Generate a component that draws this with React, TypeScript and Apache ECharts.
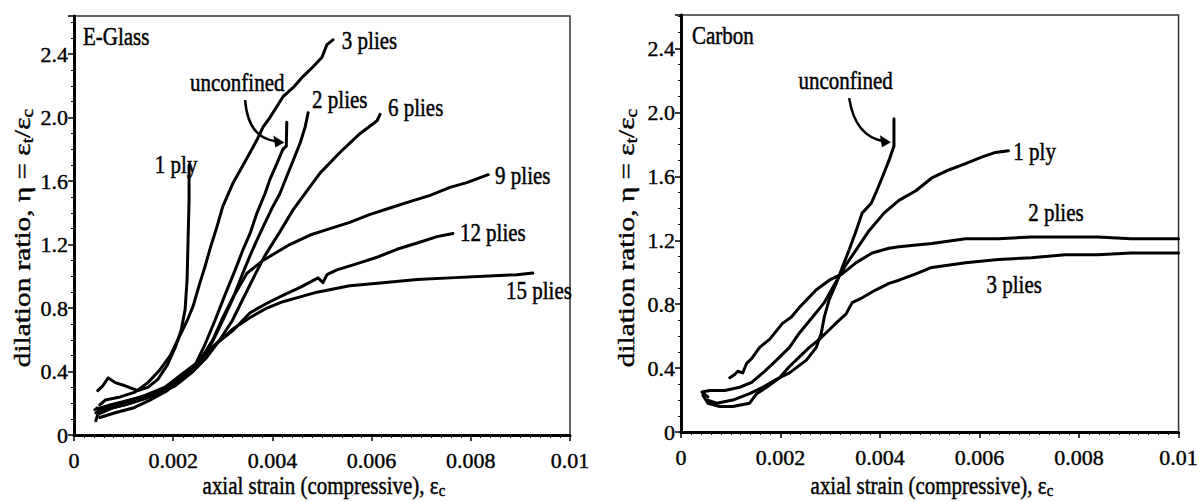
import React, { useEffect, useRef } from 'react';
import * as echarts from 'echarts';

const FAMILY = "'Liberation Serif', serif";
const FONT_SHORT = "'Liberation Serif', serif";

const xTickStep = 0.002;
const yTickStep = 0.4;
const xMax = 0.01;
const yMaxGlass = 2.64;
const yMaxCarbon = 2.61;

// ---------- E-Glass panel ----------
const glass1Ply = [[0.00048,0.28],[0.00058,0.31],[0.00069,0.36],[0.00083,0.33],[0.00103,0.31],[0.00129,0.28],[0.00149,0.30],[0.00169,0.35],[0.00188,0.44],[0.00204,0.55],[0.00216,0.66],[0.00224,0.79],[0.00228,0.98],[0.0023,1.23],[0.00232,1.48],[0.00232,1.70]];
const glass3Plies = [[0.00052,0.19],[0.00063,0.22],[0.00093,0.24],[0.00123,0.27],[0.00149,0.33],[0.00173,0.41],[0.00194,0.50],[0.00214,0.63],[0.00228,0.72],[0.0024,0.81],[0.00254,0.96],[0.00264,1.06],[0.00274,1.17],[0.0028,1.23],[0.00288,1.31],[0.003,1.44],[0.00321,1.59],[0.00339,1.69],[0.00355,1.78],[0.00369,1.86],[0.00381,1.94],[0.00395,2.0],[0.00409,2.07],[0.00421,2.13],[0.00442,2.19],[0.00462,2.26],[0.00482,2.32],[0.005,2.38],[0.0051,2.46],[0.00522,2.49]];
const glassUnconfined = [[0.00046,0.17],[0.00063,0.16],[0.00103,0.19],[0.00143,0.23],[0.00183,0.28],[0.00214,0.35],[0.00244,0.44],[0.00264,0.57],[0.00284,0.72],[0.00304,0.88],[0.00325,1.04],[0.00341,1.17],[0.00355,1.27],[0.00369,1.40],[0.00385,1.52],[0.00395,1.61],[0.00409,1.71],[0.00421,1.80],[0.00428,1.82],[0.00429,1.97]];
const glass2Plies = [[0.00044,0.14],[0.00073,0.19],[0.00113,0.22],[0.00153,0.25],[0.0019,0.30],[0.00224,0.38],[0.00254,0.47],[0.00278,0.58],[0.00298,0.71],[0.00319,0.85],[0.00339,1.01],[0.00355,1.13],[0.00369,1.23],[0.00381,1.31],[0.00401,1.44],[0.00415,1.52],[0.00429,1.63],[0.00442,1.73],[0.00456,1.84],[0.00466,1.94],[0.00472,2.03]];
const glass6Plies = [[0.00052,0.16],[0.00083,0.18],[0.00123,0.21],[0.00163,0.25],[0.00204,0.31],[0.0024,0.40],[0.00268,0.49],[0.00294,0.60],[0.00319,0.72],[0.00341,0.86],[0.00365,1.01],[0.00385,1.13],[0.00415,1.28],[0.00442,1.42],[0.0047,1.54],[0.00496,1.65],[0.00536,1.78],[0.00577,1.90],[0.00611,1.98],[0.00617,2.02]];
const glass9Plies = [[0.00042,0.16],[0.00063,0.18],[0.00103,0.21],[0.00143,0.25],[0.00183,0.30],[0.0022,0.39],[0.00254,0.47],[0.0028,0.60],[0.003,0.74],[0.00321,0.87],[0.00349,1.02],[0.00381,1.10],[0.00435,1.20],[0.00476,1.26],[0.00516,1.30],[0.00556,1.34],[0.00597,1.39],[0.00637,1.43],[0.00677,1.47],[0.00718,1.51],[0.00758,1.56],[0.00792,1.59],[0.00835,1.64]];
const glass12Plies = [[0.00052,0.11],[0.00083,0.14],[0.00119,0.17],[0.00153,0.22],[0.00188,0.28],[0.0022,0.37],[0.00254,0.47],[0.00288,0.58],[0.00321,0.66],[0.00355,0.77],[0.00389,0.83],[0.00421,0.88],[0.00456,0.93],[0.00492,0.99],[0.00502,0.96],[0.0051,1.01],[0.0053,1.04],[0.00571,1.08],[0.00611,1.12],[0.00651,1.17],[0.00692,1.21],[0.00732,1.25],[0.00764,1.27]];
const glass15Plies = [[0.00044,0.09],[0.00048,0.13],[0.00077,0.17],[0.00113,0.20],[0.00149,0.25],[0.00183,0.30],[0.00214,0.36],[0.00244,0.44],[0.00274,0.54],[0.00304,0.62],[0.00321,0.67],[0.00355,0.74],[0.00389,0.80],[0.00421,0.84],[0.00456,0.87],[0.0049,0.90],[0.00556,0.94],[0.00623,0.96],[0.00692,0.98],[0.00758,0.99],[0.00825,1.00],[0.00893,1.01],[0.00925,1.02]];

// ---------- Carbon panel ----------
const carbonUnconfined = [[0.00052,0.20],[0.00072,0.18],[0.00104,0.20],[0.00138,0.24],[0.00164,0.28],[0.00192,0.33],[0.00218,0.37],[0.00252,0.45],[0.00272,0.53],[0.00282,0.62],[0.00288,0.72],[0.00298,0.83],[0.00312,0.93],[0.00324,1.03],[0.00338,1.14],[0.00352,1.26],[0.00364,1.37],[0.00382,1.43],[0.00392,1.50],[0.00404,1.59],[0.00418,1.70],[0.00428,1.79],[0.00428,1.96]];
const carbon1Ply = [[0.00054,0.22],[0.00042,0.25],[0.00058,0.26],[0.00088,0.26],[0.00118,0.28],[0.00142,0.31],[0.00168,0.38],[0.00192,0.45],[0.00218,0.53],[0.00238,0.62],[0.00262,0.71],[0.00288,0.81],[0.00308,0.92],[0.00328,1.03],[0.00352,1.14],[0.00378,1.26],[0.00408,1.37],[0.00438,1.45],[0.00472,1.51],[0.00504,1.59],[0.00538,1.64],[0.00572,1.68],[0.00604,1.72],[0.00632,1.75],[0.00658,1.76]];
const carbon2Plies = [[0.00098,0.34],[0.00108,0.36],[0.00114,0.38],[0.00124,0.37],[0.00132,0.43],[0.00142,0.46],[0.00158,0.53],[0.00178,0.58],[0.00204,0.68],[0.00222,0.72],[0.00238,0.78],[0.00272,0.89],[0.00298,0.95],[0.00324,0.99],[0.00352,1.06],[0.00384,1.12],[0.00418,1.15],[0.00438,1.16],[0.00504,1.18],[0.00572,1.21],[0.00638,1.21],[0.00704,1.22],[0.00772,1.22],[0.00838,1.22],[0.00904,1.21],[0.01,1.21]];
const carbon3Plies = [[0.00044,0.23],[0.00054,0.18],[0.00078,0.16],[0.00104,0.16],[0.00138,0.18],[0.00152,0.24],[0.00172,0.28],[0.00198,0.34],[0.00218,0.41],[0.00238,0.47],[0.00258,0.53],[0.00278,0.58],[0.00298,0.64],[0.00318,0.70],[0.00332,0.74],[0.00344,0.81],[0.00364,0.84],[0.00392,0.89],[0.00418,0.93],[0.00438,0.95],[0.00472,0.99],[0.00504,1.03],[0.00572,1.06],[0.00638,1.08],[0.00704,1.09],[0.00772,1.11],[0.00838,1.11],[0.00904,1.12],[0.01,1.12]];

// ---------- annotations (data coordinates) ----------
const glassLabels = [
  { text: 'E-Glass', x: 0.00018, y: 2.51 },
  { text: '1 ply', x: 0.00163, y: 1.70 },
  { text: 'unconfined', x: 0.00234, y: 2.22 },
  { text: '3 plies', x: 0.0054, y: 2.48 },
  { text: '2 plies', x: 0.0048, y: 2.11 },
  { text: '6 plies', x: 0.00633, y: 2.06 },
  { text: '9 plies', x: 0.00849, y: 1.63 },
  { text: '12 plies', x: 0.00778, y: 1.27 },
  { text: '15 plies', x: 0.00871, y: 0.91 },
];
const carbonLabels = [
  { text: 'Carbon', x: 0.00022, y: 2.48 },
  { text: 'unconfined', x: 0.00236, y: 2.2 },
  { text: '1 ply', x: 0.00668, y: 1.75 },
  { text: '2 plies', x: 0.00698, y: 1.37 },
  { text: '3 plies', x: 0.00614, y: 0.92 },
];
// arrow: start, control1, control2, tip
const glassArrow = [[0.00345, 2.11], [0.00349, 1.95], [0.00371, 1.86], [0.00418, 1.85]];
const carbonArrow = [[0.00338, 2.09], [0.00346, 1.93], [0.00368, 1.84], [0.00416, 1.82]];

const xFmt = (v: number) => {
  if (v === 0) return '0';
  const r = Math.round(v * 1000) / 1000;
  if (Math.abs(r - 0.01) < 1e-9) return '0.01';
  return r.toFixed(3);
};
const yFmt = (v: number) => (v === 0 ? '0' : (Math.round(v * 10) / 10).toFixed(1));

const labelStyle = { fontFamily: FAMILY, fontSize: 22, color: '#000', fontWeight: 'normal', textBorderColor: '#000', textBorderWidth: 0.4 };

function makeX(gridIndex: number) {
  return {
    type: 'value', gridIndex, min: 0, max: xMax, interval: xTickStep,
    axisLine: { show: true, onZero: false, lineStyle: { color: '#000', width: 3 } },
    axisTick: { show: true, inside: false, length: 6, lineStyle: { color: '#000', width: 1.5 } },
    minorTick: { show: true, splitNumber: 10, length: 3, lineStyle: { color: '#000', width: 1 } },
    splitLine: { show: false },
    axisLabel: { ...labelStyle, margin: 14, formatter: xFmt },
  };
}
function makeY(gridIndex: number, max: number) {
  return {
    type: 'value', gridIndex, min: 0, max, interval: yTickStep,
    axisLine: { show: true, onZero: false, lineStyle: { color: '#000', width: 3 } },
    axisTick: { show: true, inside: false, length: 6, lineStyle: { color: '#000', width: 1.5 } },
    minorTick: { show: true, splitNumber: 4, length: 3, lineStyle: { color: '#000', width: 1 } },
    splitLine: { show: false },
    axisLabel: { ...labelStyle, margin: 6, formatter: yFmt, showMaxLabel: false },
  };
}
function line(data: number[][], g: number, name: string) {
  return {
    type: 'line', name, xAxisIndex: g, yAxisIndex: g, data,
    symbol: 'none', showSymbol: false, silent: true,
    lineStyle: { color: '#000', width: 3, join: 'round', cap: 'round' },
  };
}

export default function App() {
  const ref = useRef<HTMLDivElement>(null);
  useEffect(() => {
    if (!ref.current) return;
    const chart = echarts.init(ref.current, null, { renderer: 'svg' });
    chart.setOption({
      animation: false,
      backgroundColor: '#fff',
      textStyle: { fontFamily: FAMILY, color: '#000' },
      grid: [
        { left: 74, top: 16, width: 496, height: 419, show: true, borderColor: '#333', borderWidth: 1.5, backgroundColor: 'transparent' },
        { left: 681, top: 15, width: 499, height: 417, show: true, borderColor: '#333', borderWidth: 1.5, backgroundColor: 'transparent' },
      ],
      xAxis: [makeX(0), makeX(1)],
      yAxis: [makeY(0, yMaxGlass), makeY(1, yMaxCarbon)],
      series: [
        line(glass1Ply, 0, '1 ply'),
        line(glass3Plies, 0, '3 plies'),
        line(glassUnconfined, 0, 'unconfined'),
        line(glass2Plies, 0, '2 plies'),
        line(glass6Plies, 0, '6 plies'),
        line(glass9Plies, 0, '9 plies'),
        line(glass12Plies, 0, '12 plies'),
        line(glass15Plies, 0, '15 plies'),
        line(carbonUnconfined, 1, 'unconfined'),
        line(carbon1Ply, 1, '1 ply'),
        line(carbon2Plies, 1, '2 plies'),
        line(carbon3Plies, 1, '3 plies'),
      ],
    });

    const px = (g: number, p: number[]) => chart.convertToPixel({ gridIndex: g }, p) as number[];
    const graphics: any[] = [];
    const addLabels = (g: number, labels: { text: string; x: number; y: number }[]) => {
      labels.forEach((l) => {
        const [X, Y] = px(g, [l.x, l.y]);
        graphics.push({
          type: 'text', x: X, y: Y, scaleY: 1.15, silent: true,
          style: { text: l.text, x: 0, y: 0, fill: '#000', stroke: '#000', lineWidth: 0.4, font: `21px ${FONT_SHORT}`, align: 'left', verticalAlign: 'middle' },
        });
      });
    };
    addLabels(0, glassLabels);
    addLabels(1, carbonLabels);

    const addArrow = (g: number, pts: number[][]) => {
      const [a, c1, c2, t] = pts.map((p) => px(g, p));
      graphics.push({
        type: 'bezierCurve', silent: true,
        shape: { x1: a[0], y1: a[1], cpx1: c1[0], cpy1: c1[1], cpx2: c2[0], cpy2: c2[1], x2: t[0] - 4, y2: t[1] },
        style: { stroke: '#000', lineWidth: 2.5, fill: 'none' },
      });
      graphics.push({
        type: 'polygon', silent: true,
        shape: { points: [[t[0] + 3, t[1] + 1], [t[0] - 8, t[1] - 6], [t[0] - 6, t[1] + 6]] },
        style: { fill: '#000' },
      });
    };
    addArrow(0, glassArrow);
    addArrow(1, carbonArrow);

    const measure = (() => {
      const ctx = document.createElement('canvas').getContext('2d')!;
      return (txt: string, size: number) => {
        ctx.font = `${size}px ${FONT_SHORT}`;
        return ctx.measureText(txt).width;
      };
    })();
    const buildTitle = (parts: { t: string; sub: boolean }[], size: number, subSize: number, subDrop: number) => {
      const total = parts.reduce((s, p) => s + measure(p.t, p.sub ? subSize : size), 0);
      let cx = -total / 2;
      const children: any[] = [];
      parts.forEach((p) => {
        const sz = p.sub ? subSize : size;
        children.push({
          type: 'text', silent: true,
          style: { text: p.t, x: cx, y: p.sub ? subDrop : 0, fill: '#000', stroke: '#000', lineWidth: 0.4, font: `${sz}px ${FONT_SHORT}`, align: 'left', verticalAlign: 'middle' },
        });
        cx += measure(p.t, sz);
      });
      return children;
    };
    const yParts = [
      { t: 'dilation ratio, η = ε', sub: false }, { t: 't', sub: true },
      { t: '/ε', sub: false }, { t: 'c', sub: true },
    ];
    const xParts = [{ t: 'axial strain (compressive), ε', sub: false }, { t: 'c', sub: true }];
    [[22, 238], [626, 238]].forEach(([X, Y]) => {
      graphics.push({
        type: 'group', x: X, y: Y, rotation: Math.PI / 2, scaleX: 1.22, silent: true,
        children: buildTitle(yParts, 24, 16, 6),
      });
    });
    [[324, 486], [932, 486]].forEach(([X, Y]) => {
      graphics.push({
        type: 'group', x: X, y: Y, scaleY: 1.15, silent: true,
        children: buildTitle(xParts, 21, 15, 4),
      });
    });

    chart.setOption({ graphic: graphics });
    return () => chart.dispose();
  }, []);
  return <div ref={ref} style={{ position: 'fixed', left: 0, top: 0, width: 1201, height: 502, background: '#fff' }} />;
}
